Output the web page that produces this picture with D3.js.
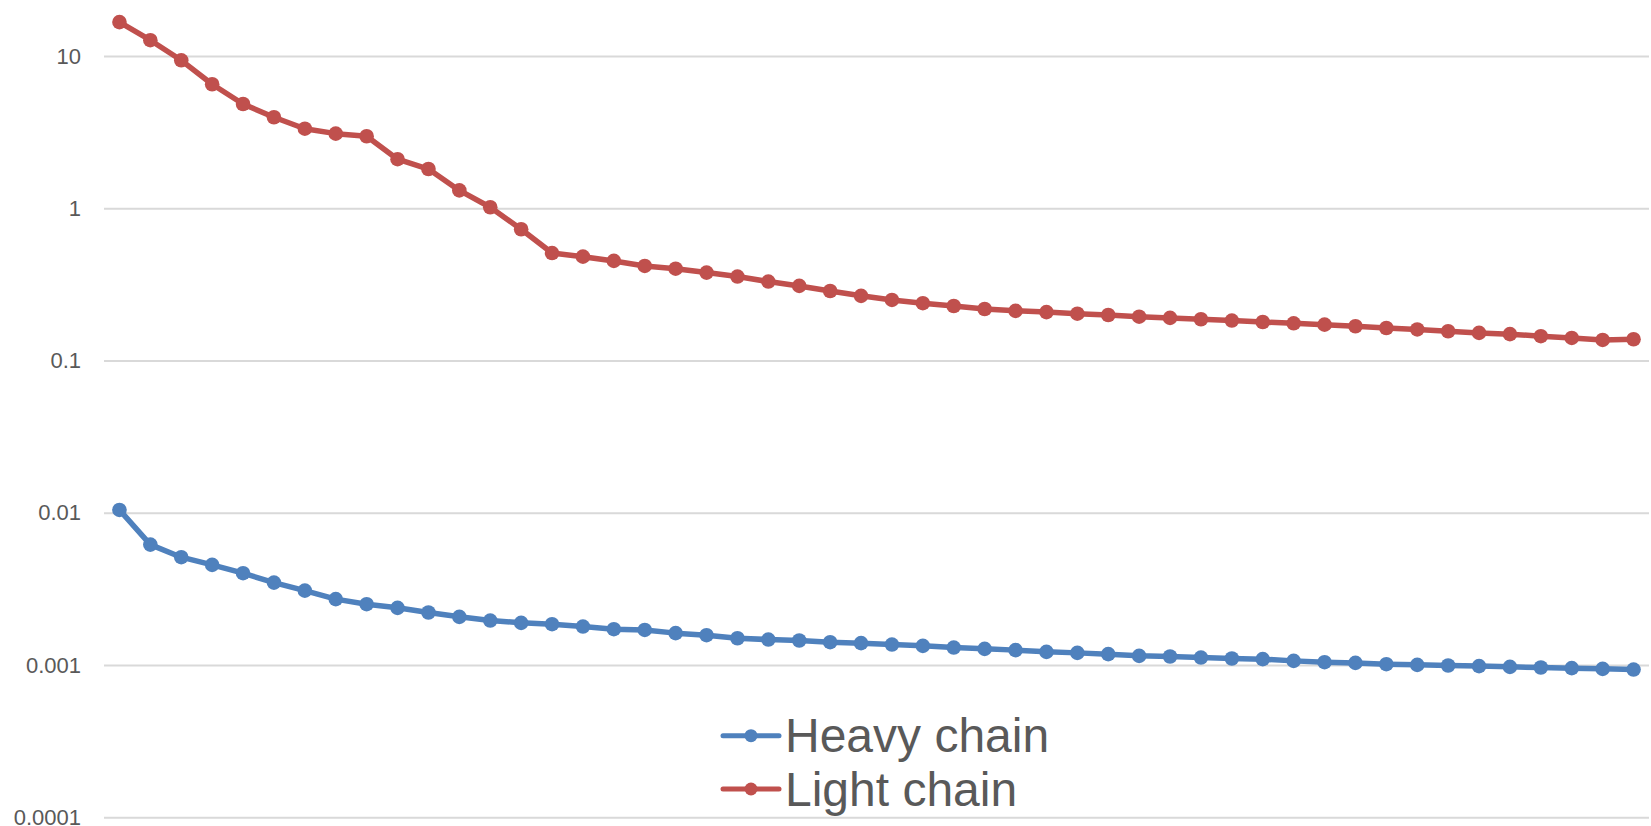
<!DOCTYPE html>
<html>
<head>
<meta charset="utf-8">
<script src="https://cdn.jsdelivr.net/npm/d3@7/dist/d3.min.js"></script>
<style>
  html, body { margin: 0; padding: 0; background: #ffffff; }
  svg { display: block; }
  text { font-family: "Liberation Sans", Arial, sans-serif; fill: #595959; }
</style>
</head>
<body>
<svg id="chart" width="1651" height="826"></svg>
<script>
// Category positions 1..50
const categories = d3.range(1, 51);

// Heavy chain values
const heavyChain = [
  0.01044, 0.00618, 0.00511, 0.00455, 0.00401, 0.00348, 0.00308, 0.00271, 0.00251, 0.002375,
  0.002213, 0.002073, 0.00196, 0.001893, 0.001855, 0.00179, 0.00172, 0.00170, 0.00162, 0.00157,
  0.00150, 0.00147, 0.00145, 0.001413, 0.001392, 0.001363, 0.001337, 0.001303, 0.001277, 0.001253,
  0.001221, 0.001202, 0.001179, 0.001149, 0.001138, 0.00112, 0.001104, 0.001093, 0.001065, 0.001044,
  0.001033, 0.001013, 0.001003, 0.000993, 0.000984, 0.000973, 0.000963, 0.000954, 0.000944, 0.000934
];

// Light chain values
const lightChain = [
  16.7, 12.7, 9.37, 6.52, 4.84, 3.96, 3.33, 3.09, 2.97, 2.10,
  1.81, 1.31, 1.015, 0.728, 0.508, 0.481, 0.451, 0.418, 0.401, 0.378,
  0.356, 0.330, 0.309, 0.286, 0.266, 0.250, 0.238, 0.228, 0.218, 0.212,
  0.208, 0.203, 0.199, 0.194, 0.1905, 0.1866, 0.183, 0.179, 0.1756, 0.172,
  0.168, 0.1636, 0.160, 0.1557, 0.1518, 0.149, 0.1445, 0.1407, 0.1365, 0.138
];

// Log-axis tick values and their labels
const tickValues = [0.0001, 0.001, 0.01, 0.1, 1, 10];
const tickLabels = ["0.0001", "0.001", "0.01", "0.1", "1", "10"];

const seriesNames = ["Heavy chain", "Light chain"];
const seriesColors = ["#4F81BD", "#C0504D"];

const svg = d3.select("#chart");

const plot = { left: 104, right: 1649, top: 56, bottom: 817.3 };

const x = d3.scalePoint()
  .domain(categories)
  .range([plot.left, plot.right])
  .padding(0.5);

const y = d3.scaleLog()
  .domain([0.0001, 10])
  .range([plot.bottom, plot.top]);

// Horizontal gridlines with labels
const yAxis = d3.axisLeft(y)
  .tickValues(tickValues)
  .tickFormat((d, i) => tickLabels[i])
  .tickSize(-(plot.right - plot.left))
  .tickPadding(23);

const gAxis = svg.append("g")
  .attr("transform", `translate(${plot.left},0)`)
  .call(yAxis);
gAxis.select(".domain").remove();
gAxis.selectAll(".tick line")
  .attr("stroke", "#D9D9D9")
  .attr("stroke-width", 2);
gAxis.selectAll(".tick text")
  .attr("fill", "#595959")
  .style("font-size", "22px")
  .style("font-family", "'Liberation Sans', Arial, sans-serif");

const line = d3.line()
  .x((d, i) => x(categories[i]))
  .y(d => y(d));

const allSeries = [heavyChain, lightChain];

allSeries.forEach((values, s) => {
  const g = svg.append("g");
  g.append("path")
    .datum(values)
    .attr("fill", "none")
    .attr("stroke", seriesColors[s])
    .attr("stroke-width", 5.5)
    .attr("stroke-linejoin", "round")
    .attr("d", line);
  g.selectAll("circle")
    .data(values)
    .join("circle")
    .attr("cx", (d, i) => x(categories[i]))
    .attr("cy", d => y(d))
    .attr("r", 7.3)
    .attr("fill", seriesColors[s]);
});

// Legend
const legend = svg.append("g").attr("transform", "translate(723,735.7)");
seriesNames.forEach((name, i) => {
  const row = legend.append("g").attr("transform", `translate(0,${i * 53.3})`);
  row.append("line")
    .attr("x1", 0).attr("x2", 56)
    .attr("y1", 0).attr("y2", 0)
    .attr("stroke", seriesColors[i])
    .attr("stroke-width", 5)
    .attr("stroke-linecap", "round");
  row.append("circle")
    .attr("cx", 28).attr("cy", 0).attr("r", 6.5)
    .attr("fill", seriesColors[i]);
  row.append("text")
    .attr("x", 62)
    .attr("y", 16.6)
    .style("font-size", "48px")
    .text(name);
});
</script>
</body>
</html>
